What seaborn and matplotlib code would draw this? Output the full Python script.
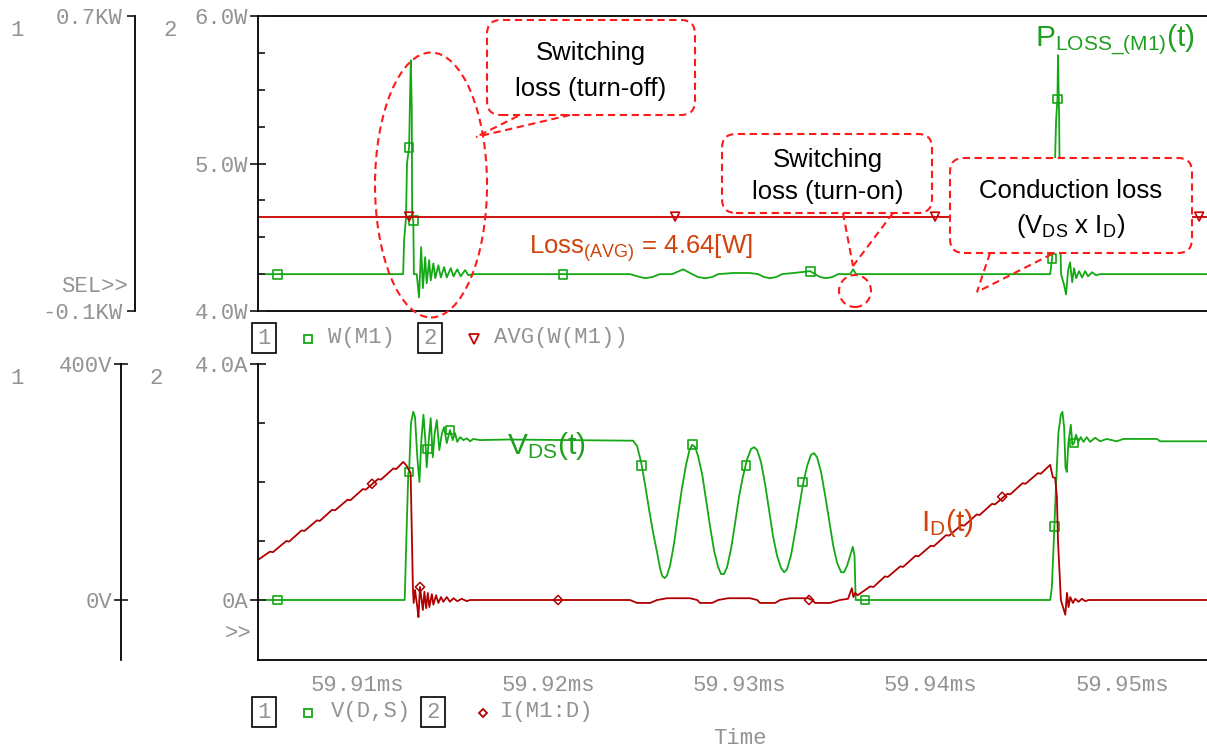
import matplotlib
matplotlib.use("Agg")
import matplotlib.pyplot as plt
import seaborn as sns
from matplotlib.patches import FancyBboxPatch, Ellipse
from matplotlib.lines import Line2D
from matplotlib.transforms import IdentityTransform

# ---------------- data (time in microseconds after 59.900 ms) ----------------
t_start, t_end = 4.82, 54.44
x_ticks = [10, 20, 30, 40, 50]
x_tick_labels = ["59.91ms", "59.92ms", "59.93ms", "59.94ms", "59.95ms"]

# W(M1)  [W]  (plot 1, axis 1)
pw_t = [4.82, 12.41, 12.46, 12.56, 12.61, 12.72, 12.77, 12.81, 12.86, 12.88, 12.94, 12.97,
        13.12, 13.24, 13.35, 13.44, 13.56, 13.64, 13.77, 13.85, 13.99, 14.09, 14.25, 14.38,
        14.55, 14.69, 14.90, 15.04, 15.24, 15.42, 15.65, 15.82, 16.08,
        24.27, 24.80, 25.06, 25.43, 25.84, 26.47, 27.05, 27.52, 27.83, 28.20, 28.56, 28.88,
        29.66, 30.55, 30.97, 31.28, 31.60, 31.91, 32.22, 32.80, 33.69, 33.95, 34.21, 34.52,
        34.84, 35.15, 35.78, 35.94, 36.09,
        46.24, 46.34, 46.44, 46.55, 46.62, 46.65, 46.71, 46.76, 46.81, 46.97, 47.07, 47.18,
        47.28, 47.39, 47.49, 47.60, 47.75, 47.91, 48.07, 48.22, 48.43, 48.64, 48.85, 54.44]
pw_v = [0, 0, 92, 154, 301, 344, 480, 580, 453, 154, 146, 0,
        0, -63, 73, -38, 46, -25, 38, -17, 29, -11, 24, -9,
        19, -9, 16, -6, 13, -6, 11, -3, 0,
        0, -8, -11, -8, 0, 0, 13, 0, -8, -11, -8, 0,
        3, 3, 0, -8, -11, -8, 0, 3, 8, 0, -8, -11,
        -8, 0, 0, 13, 0,
        0, 43, 200, 418, 475, 594, 418, 119, 0, -30, -55, 11,
        32, -22, 16, -11, 8, -9, 8, -6, 5, -3, 0, 0]
pw_mark_t = [5.82, 12.72, 12.94, 20.77, 33.69, 46.34, 46.62]
pw_mark_v = [0, 344, 146, 0, 8, 43, 475]

# AVG(W(M1))  [W]  (plot 1, axis 2)
avg_t = [4.82, 54.44]
avg_v = [4.64, 4.64]
avg_mark_t = [12.72, 26.63, 40.22, 54.03]
avg_mark_v = [4.64, 4.64, 4.64, 4.64]

# V(D,S)  [V]  (plot 2, axis 1)
vds_t = [4.82, 12.49, 12.60, 12.68, 12.72, 12.82, 12.94, 13.03, 13.15, 13.26, 13.36, 13.47,
         13.57, 13.64, 13.75, 13.85, 13.96, 14.06, 14.17, 14.30, 14.44, 14.55, 14.69, 14.86,
         15.00, 15.12, 15.24, 15.39, 15.56, 15.74, 15.91, 16.08, 16.43, 17.83,
         24.43, 24.64, 24.85, 25.06, 25.27, 25.48, 25.69, 25.84, 25.95, 26.08, 26.21, 26.37,
         26.58, 26.78, 26.99, 27.20, 27.37, 27.52, 27.68, 27.83, 28.05, 28.25, 28.46, 28.67,
         28.88, 29.03, 29.19, 29.35, 29.56, 29.76, 29.97, 30.18, 30.39, 30.60, 30.76, 30.92,
         31.12, 31.33, 31.54, 31.75, 31.96, 32.17, 32.33, 32.48, 32.69, 32.90, 33.11, 33.32,
         33.53, 33.73, 33.89, 34.05, 34.26, 34.47, 34.68, 34.89, 35.10, 35.31, 35.46, 35.62,
         35.78, 35.92, 36.01, 36.07,
         46.24, 46.33, 46.41, 46.46, 46.55, 46.67, 46.80, 46.88, 46.97, 47.04, 47.11, 47.19,
         47.32, 47.40, 47.49, 47.59, 47.71, 47.84, 47.98, 48.15, 48.33, 48.59, 48.85, 49.20,
         49.72, 50.07, 51.82, 51.99, 54.44]
vds_v = [0, 0, 130, 215, 217, 300, 319, 310, 242, 200, 271, 314,
         271, 225, 271, 308, 242, 283, 305, 254, 283, 293, 266, 288,
         271, 283, 268, 276, 271, 274, 269, 273, 271, 272,
         270, 261, 234, 195, 153, 114, 80, 54, 41, 37, 42, 59,
         97, 144, 190, 229, 253, 263, 259, 244, 212, 169, 124, 83,
         56, 44, 44, 56, 88, 129, 175, 210, 238, 256, 259, 254,
         234, 197, 153, 108, 75, 54, 47, 52, 76, 114, 156, 197,
         227, 246, 249, 242, 217, 178, 136, 93, 63, 47, 47, 58,
         75, 90, 75, 0,
         0, 22, 85, 124, 198, 283, 314, 319, 293, 225, 217, 266,
         297, 263, 266, 280, 268, 276, 268, 276, 268, 275, 269, 273,
         269, 273, 273, 269, 269]
vds_mark_t = [5.82, 12.72, 13.70, 14.86, 24.89, 27.55, 30.34, 33.31, 36.56, 46.46, 47.49]
vds_mark_v = [0, 217, 256, 288, 228, 263, 228, 200, 0, 124, 266]

# I(M1:D)  [A]  (plot 2, axis 2)
id_t = [4.82, 5.45, 5.60, 6.30, 6.45, 7.10, 7.25, 7.90, 8.05, 8.70, 8.85, 9.50, 9.65,
        10.30, 10.45, 11.10, 11.25, 11.90, 12.05, 12.41, 12.56, 12.72, 12.80, 12.92, 12.96,
        13.03, 13.15, 13.21, 13.29, 13.44, 13.52, 13.61, 13.70, 13.78, 13.91, 13.99, 14.13,
        14.25, 14.39, 14.51, 14.69, 14.86, 15.04, 15.24, 15.47, 15.74, 15.91,
        24.27, 24.64, 25.32, 25.69, 26.21, 27.41, 27.78, 27.93, 28.56, 28.88, 29.40, 30.55,
        30.92, 31.07, 31.86, 32.12, 32.64, 33.58, 33.79, 33.95, 34.73, 35.25, 35.67, 35.87,
        35.95, 36.04, 36.17, 36.83, 37.00, 37.60, 37.75, 38.40, 38.55, 39.20, 39.35, 40.00,
        40.15, 40.80, 40.95, 41.60, 41.75, 42.40, 42.55, 43.20, 43.35, 44.00, 44.15, 44.80,
        44.95, 45.60, 45.75, 46.24, 46.38, 46.50, 46.59, 46.65, 46.80, 47.03, 47.12, 47.20,
        47.29, 47.43, 47.55, 47.72, 47.90, 48.07, 48.25, 54.44]
id_v = [0.68, 0.82, 0.81, 1.00, 0.99, 1.18, 1.17, 1.35, 1.34, 1.53, 1.52, 1.70, 1.69,
        1.88, 1.87, 2.05, 2.04, 2.23, 2.22, 2.34, 2.29, 2.20, 2.15, 0.20, -0.05,
        0.17, -0.12, -0.29, 0.22, -0.17, 0.14, -0.14, 0.12, -0.12, 0.10, -0.08, 0.08,
        -0.05, 0.05, -0.03, 0.05, -0.03, 0.03, -0.02, 0.02, -0.02, 0,
        0, -0.05, -0.05, 0, 0.03, 0.03, 0, -0.05, -0.05, 0, 0.03, 0.03,
        0, -0.05, -0.05, 0, 0.03, 0.03, 0, -0.05, -0.05, 0, 0.02, 0.20,
        0.05, 0.12, 0.08, 0.23, 0.22, 0.40, 0.39, 0.57, 0.56, 0.75, 0.74, 0.92,
        0.91, 1.10, 1.09, 1.27, 1.26, 1.45, 1.44, 1.63, 1.62, 1.80, 1.79, 1.98,
        1.97, 2.15, 2.14, 2.29, 2.08, 2.07, 1.75, 1.00, 0, -0.25, 0.12, -0.12,
        0.05, -0.05, 0.02, -0.03, 0.02, -0.02, 0, 0]
id_mark_t = [10.78, 13.29, 20.51, 33.63, 43.73]
id_mark_v = [1.97, 0.22, 0, 0, 1.75]

# axis ranges
p1_ax1_lim = (-100, 700)     # W
p1_ax2_lim = (4.0, 6.0)      # W
p2_ax1_lim = (-101.7, 400)   # V
p2_ax2_lim = (-1.017, 4.0)   # A

# ---------------- style ----------------
sns.set_style("white")
plt.rcParams['font.family'] = ['Liberation Sans', 'DejaVu Sans']
plt.rcParams['mathtext.fontset'] = 'custom'
plt.rcParams['mathtext.rm'] = 'Liberation Sans'
plt.rcParams['mathtext.it'] = 'Liberation Sans:italic'
plt.rcParams['mathtext.bf'] = 'Liberation Sans:bold'

MONO = 'Liberation Mono'
GREY = '#939393'
GREEN = '#14a814'
GREEN_TXT = '#1f9f1f'
DRED = '#b00000'
RED = '#c80000'
ORANGE = '#d0440c'
DASH_RED = '#ff1a1a'
SPW = 1.3

W, H = 1207, 748
fig = plt.figure(figsize=(W / 100, H / 100), dpi=100)
P = IdentityTransform()


def rect(x0, y0, x1, y1):
    return [x0 / W, 1 - y1 / H, (x1 - x0) / W, (y1 - y0) / H]


ax1 = fig.add_axes(rect(258, 16, 1207, 311))
ax2 = ax1.twinx()
bx1 = fig.add_axes(rect(258, 364, 1207, 660))
bx2 = bx1.twinx()

# ---------------- traces ----------------
sns.lineplot(x=pw_t, y=pw_v, ax=ax1, color=GREEN, lw=1.3, estimator=None, sort=False)
sns.scatterplot(x=pw_mark_t, y=pw_mark_v, ax=ax1, marker='s', s=40, color=GREEN, zorder=4)
ax1.collections[-1].set_facecolor('none'); ax1.collections[-1].set_edgecolor(GREEN)
ax1.collections[-1].set_linewidth(1.2)

sns.lineplot(x=avg_t, y=avg_v, ax=ax2, color=RED, lw=1.3, estimator=None, sort=False)
sns.scatterplot(x=avg_mark_t, y=avg_mark_v, ax=ax2, marker='v', s=40, color=RED, zorder=4)
ax2.collections[-1].set_facecolor('none'); ax2.collections[-1].set_edgecolor(RED)
ax2.collections[-1].set_linewidth(1.2)

sns.lineplot(x=vds_t, y=vds_v, ax=bx1, color=GREEN, lw=1.3, estimator=None, sort=False)
sns.scatterplot(x=vds_mark_t, y=vds_mark_v, ax=bx1, marker='s', s=40, color=GREEN, zorder=4)
bx1.collections[-1].set_facecolor('none'); bx1.collections[-1].set_edgecolor(GREEN)
bx1.collections[-1].set_linewidth(1.2)

sns.lineplot(x=id_t, y=id_v, ax=bx2, color=DRED, lw=1.3, estimator=None, sort=False)
sns.scatterplot(x=id_mark_t, y=id_mark_v, ax=bx2, marker='D', s=22, color=DRED, zorder=4)
bx2.collections[-1].set_facecolor('none'); bx2.collections[-1].set_edgecolor(DRED)
bx2.collections[-1].set_linewidth(1.1)

# ---------------- axes styling ----------------
for a in (ax1, ax2, bx1, bx2):
    a.set_xlim(t_start, t_end)
    a.set_xlabel('')
    a.set_ylabel('')
    for s in a.spines.values():
        s.set_linewidth(SPW)
        s.set_color('black')
    a.spines['right'].set_visible(False)

ax1.set_ylim(*p1_ax1_lim)
ax2.set_ylim(*p1_ax2_lim)
bx1.set_ylim(*p2_ax1_lim)
bx2.set_ylim(*p2_ax2_lim)

# axis 1 (outer) spines
ax1.spines['left'].set_position(('outward', (258 - 135) * 0.72))
bx1.spines['left'].set_position(('outward', (258 - 121) * 0.72))
ax1.spines['top'].set_visible(True)
bx1.spines['top'].set_visible(False)

for a in (ax2, bx2):
    a.yaxis.tick_left()
    a.spines['left'].set_visible(True)
    a.spines['top'].set_visible(False)
    a.spines['bottom'].set_visible(False)

ax1.set_yticks([-100, 700])
ax1.set_yticklabels(["-0.1KW", "0.7KW"], fontfamily=MONO)
ax1.tick_params(axis='y', direction='out', length=6, width=SPW, pad=3,
                labelsize=16, labelcolor=GREY)
bx1.set_yticks([0, 400])
bx1.set_yticklabels(["0V", "400V"], fontfamily=MONO)
bx1.tick_params(axis='y', direction='inout', length=10, width=SPW, pad=1,
                labelsize=16, labelcolor=GREY)

ax2.set_yticks([4.0, 5.0, 6.0])
ax2.set_yticklabels(["4.0W", "5.0W", "6.0W"], fontfamily=MONO)
ax2.set_yticks([4.25, 4.5, 4.75, 5.25, 5.5, 5.75], minor=True)
bx2.set_yticks([0, 4.0])
bx2.set_yticklabels(["0A", "4.0A"], fontfamily=MONO)
bx2.set_yticks([1, 2, 3], minor=True)
for a in (ax2, bx2):
    a.tick_params(axis='y', which='major', direction='inout', length=12, width=SPW,
                  pad=1, labelsize=16, labelcolor=GREY)
    a.tick_params(axis='y', which='minor', direction='in', length=5, width=SPW)

ax1.set_xticks(x_ticks)
ax1.tick_params(axis='x', bottom=False, labelbottom=False)
bx1.set_xticks(x_ticks)
bx1.set_xticklabels(x_tick_labels, fontfamily=MONO)
bx1.tick_params(axis='x', direction='out', length=6, width=SPW, pad=5,
                labelsize=16, labelcolor=GREY)


# ---------------- figure texts ----------------
def ftxt(x, y, s, **kw):
    fig.text(x, H - y, s, transform=P, **kw)


mono_kw = dict(fontfamily=MONO, fontsize=16, color=GREY, va='center')
ftxt(17, 31, "1", ha='center', **mono_kw)
ftxt(170, 31, "2", ha='center', **mono_kw)
ftxt(17, 378, "1", ha='center', **mono_kw)
ftxt(156, 379, "2", ha='center', **mono_kw)
ftxt(128, 286, "SEL>>", ha='right', **mono_kw)
ftxt(252, 633, ">>", ha='right', **mono_kw)
ftxt(740, 738, "Time", ha='center', **mono_kw)

box_kw = dict(boxstyle='square,pad=0.22', fc='white', ec='black', lw=1.2)
ftxt(264, 338, "1", ha='center', bbox=box_kw, **mono_kw)
ftxt(430, 338, "2", ha='center', bbox=box_kw, **mono_kw)
ftxt(328, 338, "W(M1)", ha='left', **mono_kw)
ftxt(494, 338, "AVG(W(M1))", ha='left', **mono_kw)
ftxt(264, 712, "1", ha='center', bbox=box_kw, **mono_kw)
ftxt(433, 712, "2", ha='center', bbox=box_kw, **mono_kw)
ftxt(331, 712, "V(D,S)", ha='left', **mono_kw)
ftxt(500, 712, "I(M1:D)", ha='left', **mono_kw)

for (x, y, m, c, ms) in [(308, 339, 's', GREEN, 6), (474, 339, 'v', RED, 6.5),
                         (308, 713, 's', GREEN, 6), (483, 713, 'D', DRED, 4.5)]:
    fig.add_artist(Line2D([x], [H - y], transform=P, marker=m, ms=ms, mfc='none',
                          mec=c, mew=1.3, ls='none'))

# ---------------- annotations ----------------
dash = (0, (3.5, 2.2))
ann_kw = dict(ec=DASH_RED, lw=1.5, ls=dash, transform=P)


def bubble(x0, y0, x1, y1):
    fig.add_artist(FancyBboxPatch((x0, H - y1), x1 - x0, y1 - y0,
                                  boxstyle='round,pad=0,rounding_size=14',
                                  fc='white', zorder=5, **ann_kw))


def tail(b1, b2, tip):
    for b in (b1, b2):
        fig.add_artist(Line2D([b[0], tip[0]], [H - b[1], H - tip[1]], transform=P,
                              color=DASH_RED, lw=1.5, ls=dash, zorder=6))


fig.add_artist(Ellipse((431, H - 185), 112, 265, fill=False, zorder=6, **ann_kw))
fig.add_artist(Ellipse((855, H - 291), 32, 32, fill=False, zorder=6, **ann_kw))

bubble(487, 20, 695, 115)
tail((518, 116), (570, 115), (476, 137))
bubble(722, 134, 932, 213)
tail((843, 213), (893, 213), (853, 266))
bubble(950, 158, 1192, 253)
tail((990, 253), (1052, 254), (977, 292))

txt_kw = dict(fontsize=18.5, color='black', ha='center', va='center', zorder=7)
ftxt(591, 53, "Switching", **txt_kw)
ftxt(591, 89, "loss (turn-off)", **txt_kw)
ftxt(828, 160, "Switching", **txt_kw)
ftxt(828, 192, "loss (turn-on)", **txt_kw)
ftxt(1071, 191, "Conduction loss", **txt_kw)
ftxt(1071, 226, r"(V$_{\mathrm{DS}}$ x I$_{\mathrm{D}}$)", **txt_kw)

ftxt(529, 248, r"Loss$_{\mathrm{(AVG)}}$ = 4.64[W]", fontsize=18.5, color=ORANGE,
     ha='left', va='center', zorder=7)
ftxt(1035, 40, r"P$_{\mathrm{LOSS\_(M1)}}$(t)", fontsize=21.5, color=GREEN_TXT,
     ha='left', va='center', zorder=7)
ftxt(507, 446, r"V$_{\mathrm{DS}}$(t)", fontsize=21.5, color=GREEN_TXT,
     ha='left', va='center', zorder=7)
ftxt(921, 523, r"I$_{\mathrm{D}}$(t)", fontsize=21.5, color=ORANGE,
     ha='left', va='center', zorder=7)

fig.savefig("out.png", dpi=100, facecolor='white')
